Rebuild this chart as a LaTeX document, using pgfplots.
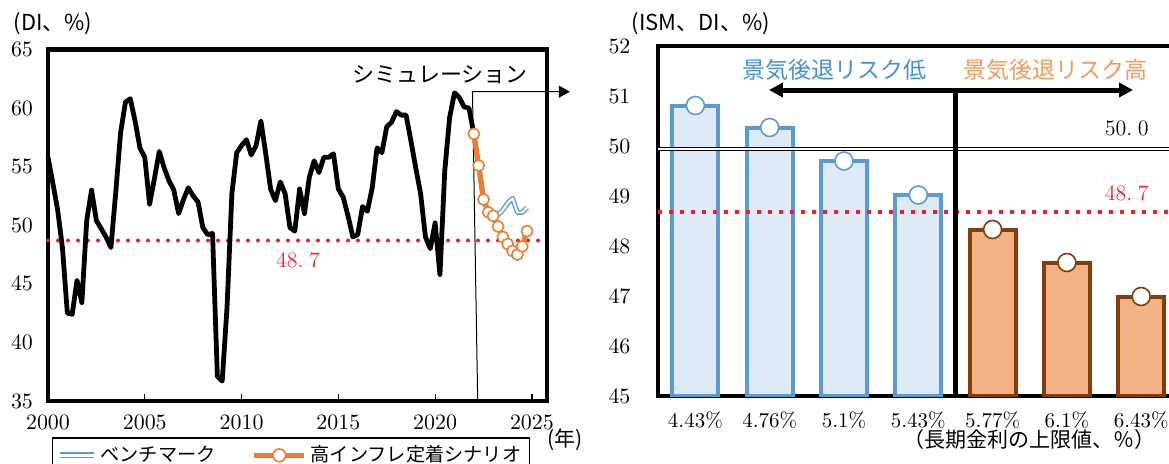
\documentclass[border=0pt]{standalone}
\usepackage{fontspec}
\usepackage{pgfplots}
\pgfplotsset{compat=1.18}
\usetikzlibrary{arrows.meta}
\newfontfamily\jp{Noto Sans CJK JP}
\definecolor{lineblue}{RGB}{91,155,213}
\definecolor{barblue}{RGB}{222,235,247}
\definecolor{orangeL}{RGB}{237,125,49}
\definecolor{barorange}{RGB}{244,177,131}
\definecolor{barbrown}{RGB}{132,60,12}
\definecolor{reddot}{RGB}{240,30,40}
\definecolor{txtblue}{RGB}{68,146,207}
\definecolor{txtorange}{RGB}{243,154,90}

\begin{document}
\begin{tikzpicture}
\useasboundingbox (0pt,0pt) rectangle (584.5pt,231.5pt);
% ---------------- left chart ----------------
\begin{axis}[
  at={(24pt,31pt)}, anchor=south west, scale only axis,
  width=249.5pt, height=175.75pt,
  xmin=2000, xmax=2025.78, ymin=35, ymax=65,
  xtick={2000,2005,...,2025}, ytick={35,40,...,65},
  tick align=inside, xtick pos=left, ytick pos=left,
  major tick length=3.6pt,
  ytick style={draw=none},
  xtick style={line width=0.6pt, black},
  axis line style={line width=2.2pt},
  tick label style={font=\fontsize{10.5}{12}\selectfont},
  x tick label style={/pgf/number format/1000 sep={}, yshift=-3.5pt},
  y tick label style={xshift=-4pt},
  clip=false,
  legend columns=2,
  legend cell align=left,
  legend style={at={(axis description cs:0.008,-0.1024)}, anchor=north west,
    draw=black, line width=0.75pt, inner sep=2pt,
    font=\jp\fontsize{9.6}{11}\selectfont,
    /tikz/every even column/.append style={column sep=16pt}},
]
\addplot[forget plot, reddot, line width=2pt, line cap=round, dash pattern=on 0pt off 5pt]
  coordinates {(2000,48.7) (2025.78,48.7)};
\draw[line width=0.5pt, -{Triangle[length=5.5pt,width=6pt]}]
  (axis cs:2022.2,35) -- (axis cs:2021.93,61.4) -- (axis cs:2026.96,61.4);
\addplot[forget plot, black, line width=2.4pt, line join=round] coordinates {
(2000.00,55.8) (2000.25,53.6) (2000.50,51.3) (2000.75,48.0)
(2001.00,42.5) (2001.25,42.4) (2001.50,45.3) (2001.75,43.4)
(2002.00,50.4) (2002.25,53.0) (2002.50,50.4) (2002.75,49.7)
(2003.00,49.0) (2003.25,48.1) (2003.50,52.8) (2003.75,57.9)
(2004.00,60.5) (2004.25,60.8) (2004.50,58.9) (2004.75,56.6)
(2005.00,55.8) (2005.25,51.8) (2005.50,54.0) (2005.75,56.3)
(2006.00,54.9) (2006.25,53.8) (2006.50,53.0) (2006.75,51.0)
(2007.00,52.2) (2007.25,53.2) (2007.50,52.5) (2007.75,52.0)
(2008.00,49.8) (2008.25,49.2) (2008.50,49.3) (2008.75,37.1)
(2009.00,36.7) (2009.25,43.0) (2009.50,52.7) (2009.75,56.2)
(2010.00,56.8) (2010.25,57.3) (2010.50,56.0) (2010.75,56.8)
(2011.00,58.9) (2011.25,56.1) (2011.50,53.1) (2011.75,52.1)
(2012.00,53.7) (2012.25,52.7) (2012.50,49.8) (2012.75,49.5)
(2013.00,53.1) (2013.25,51.0) (2013.50,54.1) (2013.75,55.5)
(2014.00,54.5) (2014.25,55.8) (2014.50,55.8) (2014.75,56.1)
(2015.00,53.1) (2015.25,52.4) (2015.50,50.8) (2015.75,49.0)
(2016.00,49.2) (2016.25,51.6) (2016.50,51.2) (2016.75,53.2)
(2017.00,56.6) (2017.25,56.2) (2017.50,58.4) (2017.75,58.8)
(2018.00,59.7) (2018.25,59.4) (2018.50,59.4) (2018.75,57.2)
(2019.00,54.9) (2019.25,52.7) (2019.50,49.0) (2019.75,48.0)
(2020.00,50.2) (2020.25,45.8) (2020.50,54.7) (2020.75,59.2)
(2021.00,61.3) (2021.25,60.9) (2021.50,60.1) (2021.75,60.0)
(2022.00,57.8)};
\addplot[draw=lineblue, double=white, double distance=1.1pt, line width=0.7pt, line join=round,
  legend image code/.code={\draw[draw=lineblue, double=white, double distance=1.3pt, line width=0.8pt] (0pt,0pt) -- (17pt,0pt);}]
  coordinates {(2022.00,57.8) (2022.25,55.1) (2022.50,52.2) (2022.75,51.1) (2023.00,50.8)
  (2023.25,50.9) (2023.50,51.3) (2023.75,51.9) (2024.00,52.3) (2024.25,51.1) (2024.50,51.1) (2024.75,51.5)};
\addlegendentry{ベンチマーク}
\addplot[orangeL, line width=2.5pt, line join=round, mark=*, mark size=2.8pt,
  mark options={fill=white, draw=orangeL, line width=0.8pt},
  legend image code/.code={\draw[orangeL, line width=2.5pt] (0pt,0pt) -- (25pt,0pt);
    \draw[orangeL, fill=white, line width=0.8pt] (12.5pt,0pt) circle (3.2pt);}]
  coordinates {(2022.00,57.8) (2022.25,55.1) (2022.50,52.2) (2022.75,51.1) (2023.00,50.8)
  (2023.25,49.9) (2023.50,49.0) (2023.75,48.4) (2024.00,47.8) (2024.25,47.5) (2024.50,48.2) (2024.75,49.5)};
\addlegendentry{高インフレ定着シナリオ}
\end{axis}
% ---------------- right chart ----------------
\begin{axis}[
  at={(328.75pt,33.5pt)}, anchor=south west, scale only axis,
  width=260.8pt, height=175pt,
  xmin=-0.51, xmax=6.51, ymin=45, ymax=52,
  xtick={0,...,6}, xticklabels={4.43\%,4.76\%,5.1\%,5.43\%,5.77\%,6.1\%,6.43\%},
  ytick={45,...,52},
  xtick style={draw=none}, ytick style={draw=none},
  axis line style={line width=2pt},
  tick label style={font=\fontsize{10.5}{12}\selectfont},
  x tick label style={yshift=-4.5pt},
  y tick label style={xshift=-10pt},
]
\addplot[ybar, bar width=0.62, bar shift=0pt, fill=barblue, draw=lineblue, line width=2pt]
  coordinates {(0,50.81) (1,50.37) (2,49.70) (3,49.02)};
\addplot[ybar, bar width=0.62, bar shift=0pt, fill=barorange, draw=barbrown, line width=2pt]
  coordinates {(4,48.33) (5,47.67) (6,46.99)};
\addplot[reddot, line width=2pt, dash pattern=on 2pt off 3.5pt]
  coordinates {(-0.51,48.68) (6.51,48.68)};
\addplot[black, line width=0.5pt, double=white, double distance=1pt]
  coordinates {(-0.51,49.95) (6.51,49.95)};
\addplot[only marks, mark=*, mark size=4.5pt, mark options={fill=white, draw=lineblue, line width=0.8pt}]
  coordinates {(0,50.81) (1,50.37) (2,49.70) (3,49.02)};
\addplot[only marks, mark=*, mark size=4.5pt, mark options={fill=white, draw=barbrown, line width=0.8pt}]
  coordinates {(4,48.33) (5,47.67) (6,46.99)};
\draw[line width=2.5pt] (axis cs:3.5,45) -- (axis cs:3.5,51.12);
\draw[line width=2.5pt, {Triangle[length=7pt,width=7pt]}-{Triangle[length=7pt,width=7pt]}]
  (axis cs:0.99,51.12) -- (axis cs:5.89,51.12);
\end{axis}
% ---------------- texts (pixel coordinates) ----------------
\begin{scope}[x=0.5pt,y=-0.5pt,shift={(0pt,231.5pt)}]
\node[font=\jp\fontsize{11}{12}\selectfont, inner sep=0pt] at (53,24) {(DI、\%)};
\node[font=\jp\fontsize{11}{12}\selectfont, inner sep=0pt] at (701,24) {(ISM、DI、\%)};
\node[font=\jp\fontsize{11}{12}\selectfont, inner sep=0pt] at (440,75) {シミュレーション};
\node[font=\fontsize{11}{12}\selectfont, text=reddot, inner sep=0pt] at (298,260) {48.\hspace{0.25em}7};
\node[font=\jp\fontsize{10.5}{12}\selectfont, inner sep=0pt] at (565,440) {(年)};
\node[font=\jp\fontsize{10.5}{12}\selectfont, inner sep=0pt] at (1029,440) {（長期金利の上限値、％）};
\node[font=\jp\fontsize{11.5}{13}\selectfont, text=txtblue, inner sep=0pt] at (834,70) {景気後退リスク低};
\node[font=\jp\fontsize{11.5}{13}\selectfont, text=txtorange, inner sep=0pt] at (1055,70) {景気後退リスク高};
\node[font=\fontsize{11}{12}\selectfont, inner sep=0pt, anchor=east] at (1149,128) {50.\hspace{0.25em}0};
\node[font=\fontsize{11}{12}\selectfont, text=reddot, inner sep=0pt, anchor=east] at (1149,193) {48.\hspace{0.25em}7};
\end{scope}
\end{tikzpicture}
\end{document}
